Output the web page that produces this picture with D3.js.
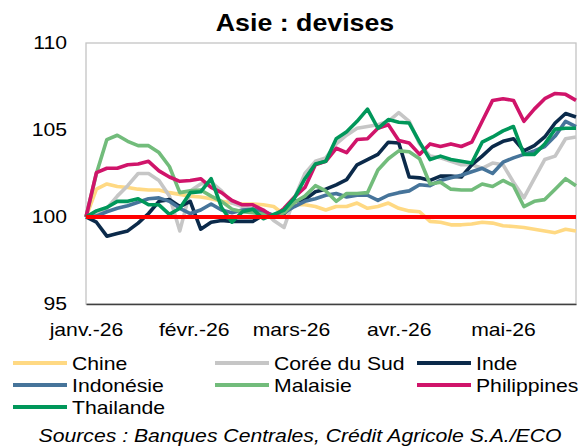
<!DOCTYPE html>
<html>
<head>
<meta charset="utf-8">
<script src="https://cdn.jsdelivr.net/npm/d3@7"></script>
<style>
  body { margin: 0; background: #fff; }
  svg { display: block; font-family: "Liberation Sans", Arial, sans-serif; }
</style>
</head>
<body>
<div id="chart"></div>
<script>
// dates (every 3 days)
const dates = [
  "2026-01-01","2026-01-04","2026-01-07","2026-01-10","2026-01-13","2026-01-16",
  "2026-01-19","2026-01-22","2026-01-25","2026-01-28","2026-01-31","2026-02-03",
  "2026-02-06","2026-02-09","2026-02-12","2026-02-15","2026-02-18","2026-02-21",
  "2026-02-24","2026-02-27","2026-03-02","2026-03-05","2026-03-08","2026-03-11",
  "2026-03-14","2026-03-17","2026-03-20","2026-03-23","2026-03-26","2026-03-29",
  "2026-04-01","2026-04-04","2026-04-07","2026-04-10","2026-04-13","2026-04-16",
  "2026-04-19","2026-04-22","2026-04-25","2026-04-28","2026-05-01","2026-05-04",
  "2026-05-07","2026-05-10","2026-05-13","2026-05-16","2026-05-19","2026-05-22"
];

const chine = [100, 101.6, 101.9, 101.75, 101.7, 101.6, 101.55, 101.55, 101.4, 101.3, 101.2, 101.15,
  101.05, 100.9, 100.8, 100.75, 100.75, 100.7, 100.6, 100.15, 100.7, 100.7, 100.6, 100.4,
  100.6, 100.6, 100.8, 100.5, 100.6, 100.8, 100.5, 100.35, 100.3, 99.75, 99.7, 99.55,
  99.55, 99.6, 99.7, 99.65, 99.5, 99.45, 99.4, 99.3, 99.2, 99.1, 99.3, 99.2];

const coree = [100, 100.2, 100.5, 101.2, 101.8, 102.5, 102.5, 102.1, 101.2, 99.2, 101.5, 101.9,
  102.0, 101.5, 100.8, 100.6, 100.45, 100.4, 99.8, 99.4, 101.1, 102.5, 103.2, 103.4,
  104.2, 104.7, 105.1, 105.2, 105.3, 105.5, 106.0, 105.5, 104.2, 103.5, 103.4, 103.2,
  103.0, 103.0, 102.8, 103.1, 103.0, 102.0, 101.1, 102.2, 103.3, 103.5, 104.5, 104.6];

const inde = [100, 99.7, 98.9, 99.05, 99.2, 99.65, 100.2, 100.9, 101.0, 100.6, 100.9, 99.3,
  99.7, 99.8, 99.75, 99.75, 99.75, 100.1, 100.05, 100.2, 100.9, 101.0, 101.45, 101.6,
  101.85, 102.15, 103.0, 103.3, 103.6, 104.3, 104.25, 102.3, 102.25, 102.1, 102.35, 102.35,
  102.3, 103.0, 103.5, 104.05, 104.35, 104.5, 103.8, 104.1, 104.6, 105.4, 105.95, 105.75];

const indonesie = [100, 100.05, 100.3, 100.5, 100.65, 100.85, 101.05, 101.1, 100.9, 100.5, 100.2, 100.4,
  100.75, 100.4, 100.25, 100.4, 100.45, 100.3, 100.1, 100.25, 100.6, 100.9, 101.05, 101.25,
  101.35, 101.15, 101.25, 101.25, 100.95, 101.25, 101.4, 101.5, 101.85, 101.8, 102.1, 102.25,
  102.4, 102.6, 102.8, 102.5, 103.15, 103.4, 103.6, 103.8, 104.05, 104.65, 105.5, 105.2];

const malaisie = [100, 102.5, 104.45, 104.7, 104.35, 104.1, 104.1, 103.7, 102.9, 101.4, 101.5, 101.55,
  101.2, 100.9, 100.45, 100.3, 100.25, 100.15, 100.0, 100.25, 100.85, 101.2, 101.8, 101.5,
  100.9, 101.35, 101.35, 101.4, 102.7, 103.35, 103.8, 103.75, 103.35, 101.9, 102.0, 101.6,
  101.55, 101.55, 101.9, 101.75, 102.1, 101.8, 100.6, 100.9, 101.0, 101.6, 102.2, 101.8];

const philippines = [100, 102.55, 102.8, 102.8, 103.0, 103.05, 103.2, 102.65, 102.3, 102.05, 102.1, 102.2,
  101.7, 101.4, 100.95, 100.7, 100.7, 100.4, 100.0, 100.5, 101.15, 101.7, 103.0, 103.2,
  103.95, 103.7, 104.45, 104.5, 105.1, 105.3, 104.4, 104.25, 103.6, 104.2, 104.05, 104.2,
  104.05, 104.3, 105.5, 106.7, 106.8, 106.7, 105.5, 106.2, 106.8, 107.1, 107.05, 106.7];

const thailande = [100, 100.35, 100.55, 100.9, 100.9, 101.05, 100.7, 100.7, 100.15, 100.5, 101.4, 101.45,
  102.2, 100.55, 99.7, 100.3, 100.45, 99.9, 100.15, 100.4, 101.1, 102.2, 103.05, 103.2,
  104.5, 104.9, 105.5, 106.2, 105.1, 105.6, 105.45, 105.4, 104.3, 103.3, 103.5, 103.3,
  103.2, 103.1, 104.3, 104.6, 104.95, 105.2, 103.6, 103.6, 104.2, 105.05, 105.1, 105.1];

const seriesNames = ["Chine", "Corée du Sud", "Inde", "Indonésie", "Malaisie", "Philippines", "Thailande"];
const seriesValues = [chine, coree, inde, indonesie, malaisie, philippines, thailande];
const seriesColors = ["#FFD983", "#C6C6C6", "#0B2A4A", "#46749A", "#72BC7B", "#D0146A", "#00975A"];

const yTicks = [95, 100, 105, 110];
const xTickDates = ["2026-01-01", "2026-02-01", "2026-03-01", "2026-04-01", "2026-05-01"];
const xTickLabels = ["janv.-26", "févr.-26", "mars-26", "avr.-26", "mai-26"];
const baseline = 100;

const W = 588, H = 446;
const plot = { left: 86, right: 576, top: 43, bottom: 304 };
const stretch = 1.145; // text in the picture is a bit wider than Arial
const parse = d3.timeParse("%Y-%m-%d");

const svg = d3.select("#chart").append("svg")
  .attr("width", W)
  .attr("height", H);

// Scales
const x = d3.scaleTime()
  .domain([parse(dates[0]), parse(dates[dates.length - 1])])
  .range([plot.left, plot.right]);
const y = d3.scaleLinear()
  .domain([95, 110])
  .range([plot.bottom, plot.top]);

// Title
svg.append("text")
  .attr("transform", "translate(305,31) scale(1.115,1)")
  .attr("text-anchor", "middle")
  .style("font-size", "24px")
  .style("font-weight", "bold")
  .text("Asie : devises");

// Plot frame
svg.append("rect")
  .attr("x", plot.left)
  .attr("y", plot.top)
  .attr("width", plot.right - plot.left)
  .attr("height", plot.bottom - plot.top)
  .style("fill", "none")
  .style("stroke", "#C4C4C4")
  .style("stroke-width", 1.3);

// Y axis
const yAxis = svg.append("g")
  .attr("transform", "translate(" + plot.left + ",0)")
  .call(d3.axisLeft(y).tickValues(yTicks).tickSize(0).tickPadding(19));
yAxis.select(".domain").remove();
yAxis.selectAll("text")
  .attr("x", -19 / stretch)
  .attr("transform", "scale(" + stretch + ",1)")
  .style("font-size", "18.5px")
  .style("fill", "#000")
  .attr("font-family", null);

// X axis
const xAxis = svg.append("g")
  .attr("transform", "translate(0," + plot.bottom + ")")
  .call(d3.axisBottom(x)
    .tickValues(xTickDates.map(parse))
    .tickSize(0)
    .tickPadding(19)
    .tickFormat((d, i) => xTickLabels[i]));
xAxis.select(".domain")
  .style("stroke", "#404040")
  .style("stroke-width", 1.3);
xAxis.selectAll("text")
  .attr("transform", "scale(" + stretch + ",1)")
  .style("font-size", "18.5px")
  .style("fill", "#000")
  .attr("font-family", null);

// Lines
const line = d3.line()
  .x((d, i) => x(parse(dates[i])))
  .y(d => y(d));

svg.append("g")
  .selectAll("path")
  .data(seriesValues)
  .enter()
  .append("path")
  .attr("d", d => line(d))
  .style("fill", "none")
  .style("stroke", (d, i) => seriesColors[i])
  .style("stroke-width", 3.6)
  .style("stroke-linejoin", "round");

// Base 100 line
svg.append("line")
  .attr("x1", plot.left)
  .attr("x2", plot.right)
  .attr("y1", y(baseline))
  .attr("y2", y(baseline))
  .style("stroke", "#FF0000")
  .style("stroke-width", 4);

// Legend
const legend = svg.append("g");
const legendItem = legend.selectAll("g")
  .data(seriesNames)
  .enter()
  .append("g")
  .attr("transform", (d, i) => "translate(" + (13 + (i % 3) * 202) + "," + (363 + Math.floor(i / 3) * 22) + ")");

legendItem.append("line")
  .attr("x1", 0)
  .attr("x2", 54)
  .style("stroke", (d, i) => seriesColors[i])
  .style("stroke-width", 4);

legendItem.append("text")
  .attr("transform", "translate(59,7) scale(" + stretch + ",1)")
  .style("font-size", "18.5px")
  .text(d => d);

// Source
svg.append("text")
  .attr("transform", "translate(300,442) scale(" + stretch + ",1)")
  .attr("text-anchor", "middle")
  .style("font-size", "18.5px")
  .style("font-style", "italic")
  .text("Sources : Banques Centrales, Crédit Agricole S.A./ECO");
</script>
</body>
</html>
